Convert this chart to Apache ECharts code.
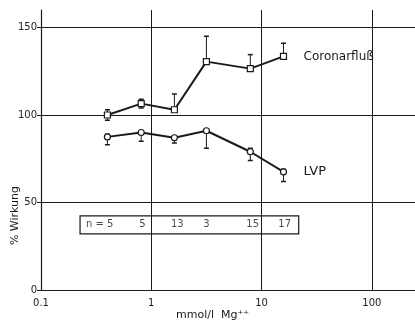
<!DOCTYPE html>
<html>
<head>
<meta charset="utf-8">
<script src="https://cdn.jsdelivr.net/npm/echarts@6/dist/echarts.min.js"></script>
<style>
html, body { margin: 0; padding: 0; background: #fff; }
#chart { width: 415px; height: 328px; }
</style>
</head>
<body>
<div id="chart"></div>
<script>
// Mg++ Konzentration (mmol/l)
var dose = [0.4, 0.81, 1.62, 3.16, 7.9, 15.8];
// Coronarfluß, % Wirkung
var coronar = [100, 106.5, 103, 130.5, 126.5, 133.5];
var coronarHi = [103, 109, 112, 145, 134.5, 141];
var coronarLo = [97, 104, 103, 130.5, 126.5, 133.5];
// LVP, % Wirkung
var lvp = [87.5, 90, 87, 91, 79, 67.5];
var lvpHi = [89, 91, 88, 92, 81, 69];
var lvpLo = [83, 85, 84, 81, 74, 62];
// n pro Konzentration
var nLabels = ['n = 5', '5', '13', '3', '15', '17'];
var nPos = [0.34, 0.83, 1.72, 3.16, 8.3, 16.2];
var yTicks = [0, 50, 100, 150];
var xTicks = [0.1, 1, 10, 100];

var ink = '#1a1a1a';
var font = 'DejaVu Sans';

function pairs(xs, ys) {
    return xs.map(function (x, i) { return [x, ys[i]]; });
}

function errorItem(params, api) {
    var p1 = api.coord([api.value(0), api.value(1)]);
    var p2 = api.coord([api.value(0), api.value(2)]);
    var cap = 2.5;
    return {
        type: 'group',
        children: [
            {type: 'line', shape: {x1: p1[0], y1: p1[1], x2: p2[0], y2: p2[1]}, style: {stroke: ink, lineWidth: 1}},
            {type: 'line', shape: {x1: p1[0] - cap, y1: p1[1], x2: p1[0] + cap, y2: p1[1]}, style: {stroke: ink, lineWidth: 1.5}},
            {type: 'line', shape: {x1: p2[0] - cap, y1: p2[1], x2: p2[0] + cap, y2: p2[1]}, style: {stroke: ink, lineWidth: 1.5}}
        ]
    };
}

var myChart = echarts.init(document.getElementById('chart'));
var option = {
    backgroundColor: '#fff',
    animation: false,
    grid: {left: 41, right: 0, top: 10, bottom: 38},
    xAxis: {
        type: 'log',
        logBase: 10,
        min: 0.1,
        max: 246,
        axisLine: {lineStyle: {color: ink, width: 1.2}},
        axisTick: {show: true, customValues: xTicks, length: 4, inside: true, lineStyle: {color: ink}},
        axisLabel: {
            customValues: xTicks,
            color: ink, fontFamily: font, fontSize: 10, margin: 8,
            formatter: function (v) { return v < 0.5 ? '0.1' : String(Math.round(v)); }
        },
        splitLine: {show: false},
        minorTick: {show: false}
    },
    yAxis: {
        type: 'value',
        min: 0,
        max: 160,
        axisLine: {show: true, lineStyle: {color: ink, width: 1.2}},
        axisTick: {show: true, customValues: yTicks, length: 4, lineStyle: {color: ink}},
        axisLabel: {customValues: yTicks, color: ink, fontFamily: font, fontSize: 10, margin: 4},
        splitLine: {show: false}
    },
    graphic: [
        {type: 'text', left: 10, top: 186, rotation: Math.PI / 2,
            style: {text: '% Wirkung', fill: ink, font: '11px "DejaVu Sans"'}},
        {type: 'text', left: 176, top: 310,
            style: {text: 'mmol/l  Mg⁺⁺', fill: ink, font: '11px "DejaVu Sans"'}}
    ],
    series: [
        {
            // Gitterlinien
            type: 'line',
            data: [],
            silent: true,
            markLine: {
                silent: true,
                symbol: 'none',
                label: {show: false},
                lineStyle: {color: ink, type: 'solid', width: 1},
                data: [{yAxis: 50}, {yAxis: 100}, {yAxis: 150}, {xAxis: 1}, {xAxis: 10}, {xAxis: 100}]
            }
        },
        {
            // n-Kasten
            type: 'scatter',
            symbol: 'circle',
            symbolSize: 1,
            itemStyle: {color: 'rgba(0,0,0,0)'},
            silent: true,
            data: pairs(nPos, nLabels.map(function () { return 37.2; })),
            label: {
                show: true,
                position: 'inside',
                color: ink,
                fontFamily: font,
                fontSize: 10,
                formatter: function (p) { return nLabels[p.dataIndex]; }
            },
            markArea: {
                silent: true,
                itemStyle: {color: '#fff', borderColor: ink, borderWidth: 1.2},
                data: [[{coord: [0.226, 42.4]}, {coord: [21.7, 32.1]}]]
            },
            z: 3
        },
        {
            name: 'Coronarfluß',
            type: 'line',
            data: pairs(dose, coronar),
            symbol: 'rect',
            symbolSize: 6,
            showAllSymbol: true,
            lineStyle: {color: ink, width: 2},
            itemStyle: {color: '#fff', borderColor: ink, borderWidth: 1.2},
            endLabel: {show: true, formatter: '{a}', distance: 20, color: ink, fontFamily: font, fontSize: 12},
            z: 5
        },
        {
            name: 'LVP',
            type: 'line',
            data: pairs(dose, lvp),
            symbol: 'circle',
            symbolSize: 6,
            showAllSymbol: true,
            lineStyle: {color: ink, width: 2},
            itemStyle: {color: '#fff', borderColor: ink, borderWidth: 1.2},
            endLabel: {show: true, formatter: '{a}', distance: 20, color: ink, fontFamily: font, fontSize: 13},
            z: 5
        },
        {
            type: 'custom',
            renderItem: errorItem,
            data: dose.map(function (x, i) { return [x, coronarLo[i], coronarHi[i]]; }),
            z: 4
        },
        {
            type: 'custom',
            renderItem: errorItem,
            data: dose.map(function (x, i) { return [x, lvpLo[i], lvpHi[i]]; }),
            z: 4
        }
    ]
};
myChart.setOption(option);
</script>
</body>
</html>
